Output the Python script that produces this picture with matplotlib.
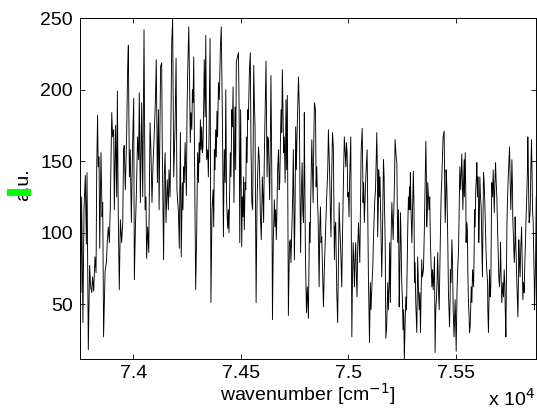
import matplotlib
matplotlib.use('Agg')
import matplotlib.pyplot as plt
from matplotlib.patches import Rectangle

# ---- data (wavenumber in cm^-1, intensity in a.u.) ----
wn_a = [73751, 73757, 73760, 73766, 73771, 73777, 73782, 73785, 73791, 73797,
        73802, 73807, 73811, 73816, 73822, 73827, 73830, 73834, 73837, 73841,
        73844, 73850, 73855, 73858, 73862, 73869, 73875, 73879, 73884, 73889,
        73893, 73900, 73904, 73909, 73912, 73918, 73923, 73926, 73930, 73935,
        73940, 73946, 73951, 73955, 73958, 73963, 73969, 73974, 73977, 73982,
        73986, 73991, 73997, 74002, 74005, 74010, 74014, 74020, 74025, 74028,
        74033, 74039, 74044, 74050, 74055, 74059, 74062, 74067, 74072, 74078,
        74082, 74087, 74092, 74096]
ai_a = [136, 58, 125, 37, 116, 140, 92, 142, 18, 77,
        62, 58, 69, 59, 83, 72, 144, 182, 146, 153,
        89, 156, 111, 121, 27, 73, 79, 93, 104, 93,
        117, 184, 167, 172, 116, 175, 125, 199, 116, 60,
        109, 93, 107, 158, 161, 130, 167, 216, 231, 139,
        158, 107, 163, 194, 67, 104, 125, 167, 151, 198,
        121, 191, 125, 242, 116, 125, 82, 104, 86, 177,
        158, 121, 149, 163]

wn_b = [74103, 74107, 74112, 74117, 74120, 74124, 74127, 74132, 74135, 74141,
        74144, 74148, 74152, 74158, 74163, 74166, 74171, 74174, 74179, 74183,
        74188, 74191, 74194, 74199, 74203, 74210, 74214, 74219, 74223, 74228,
        74231, 74234, 74237, 74241, 74245, 74247, 74250, 74253, 74258, 74262,
        74265, 74268, 74272, 74275, 74278, 74281, 74285, 74290, 74295, 74299,
        74303, 74306, 74309, 74312, 74315, 74318, 74321, 74324, 74327, 74330,
        74334, 74337, 74341, 74346, 74349, 74352, 74357, 74361, 74366, 74371,
        74374, 74377, 74380, 74383, 74386, 74389, 74392, 74396, 74400, 74405,
        74409, 74414, 74419, 74423, 74427, 74430, 74434, 74439, 74442, 74445,
        74451, 74454, 74458, 74461, 74464, 74468]
ai_b = [193, 221, 135, 186, 116, 174, 216, 219, 157, 81,
        139, 156, 107, 137, 116, 144, 125, 163, 234, 250,
        139, 156, 172, 222, 130, 114, 89, 170, 83, 135,
        116, 146, 135, 163, 139, 126, 186, 213, 244, 202,
        163, 184, 172, 200, 191, 223, 154, 60, 102, 156,
        135, 163, 149, 179, 158, 174, 156, 160, 186, 221,
        181, 238, 151, 158, 139, 167, 236, 51, 116, 130,
        104, 158, 144, 172, 153, 185, 167, 205, 193, 230,
        244, 184, 97, 158, 135, 200, 121, 103, 116, 100,
        156, 139, 186, 174, 202, 121]

wn_c = [74473, 74476, 74479, 74484, 74489, 74492, 74495, 74499, 74504, 74507,
        74510, 74513, 74516, 74520, 74523, 74526, 74529, 74532, 74535, 74540,
        74544, 74547, 74551, 74555, 74560, 74563, 74566, 74571, 74575, 74578,
        74582, 74586, 74591, 74595, 74600, 74603, 74606, 74609, 74613, 74617,
        74622, 74625, 74628, 74631, 74634, 74637, 74640, 74644, 74647, 74651,
        74656, 74659, 74662, 74665, 74668, 74671, 74675, 74678, 74681, 74684,
        74687, 74690, 74693, 74696, 74699, 74702, 74706, 74710, 74713, 74716,
        74721, 74726, 74730, 74733, 74737, 74741, 74744, 74749, 74752, 74755,
        74758, 74761, 74764, 74768, 74772, 74775, 74778, 74781, 74785, 74788,
        74791, 74794, 74795, 74800, 74805, 74809, 74814, 74819, 74822, 74825,
        74830, 74833, 74836, 74839, 74842]
ai_c = [188, 144, 219, 223, 226, 186, 93, 186, 90, 125,
        111, 139, 102, 135, 130, 167, 149, 186, 179, 214,
        226, 163, 121, 116, 217, 191, 174, 51, 118, 139,
        160, 151, 111, 95, 139, 125, 107, 151, 186, 220,
        139, 167, 165, 144, 123, 163, 210, 139, 39, 95,
        123, 104, 116, 95, 116, 144, 158, 130, 135, 163,
        186, 170, 214, 186, 156, 167, 135, 193, 144, 196,
        42, 93, 95, 79, 102, 125, 158, 81, 116, 174,
        144, 167, 186, 209, 186, 125, 86, 125, 149, 116,
        107, 146, 184, 87, 44, 62, 40, 107, 93, 125,
        165, 144, 121, 163, 191]

wn_d = [74847, 74850, 74853, 74856, 74859, 74864, 74867, 74870, 74873, 74876,
        74879, 74884, 74888, 74892, 74896, 74899, 74904, 74907, 74910, 74913,
        74916, 74919, 74922, 74926, 74930, 74935, 74938, 74941, 74946, 74950,
        74954, 74957, 74960, 74963, 74966, 74969, 74972, 74977, 74981, 74985,
        74988, 74991, 74994, 74997, 75000, 75003, 75006, 75011, 75016, 75019,
        75022, 75025, 75028, 75031, 75034, 75037, 75040, 75043, 75047, 75050,
        75053, 75056, 75059, 75064, 75067, 75068, 75071, 75074, 75078, 75081,
        75084, 75087, 75090, 75093, 75098, 75102, 75105, 75109, 75113, 75116,
        75119, 75122, 75126, 75129, 75132, 75135, 75136, 75140, 75141, 75144,
        75147, 75152, 75155, 75158, 75163, 75166, 75167, 75171, 75174, 75178,
        75183, 75186, 75189, 75192, 75195, 75198, 75202, 75205, 75208, 75211,
        75214]
ai_d = [186, 132, 146, 125, 111, 62, 104, 118, 93, 97,
        79, 48, 74, 93, 111, 125, 144, 172, 156, 139,
        116, 97, 135, 170, 160, 81, 104, 107, 58, 37,
        81, 121, 104, 93, 79, 62, 93, 137, 167, 156,
        146, 163, 156, 125, 128, 111, 139, 167, 27, 69,
        93, 79, 62, 83, 93, 69, 55, 88, 107, 93,
        79, 116, 156, 173, 139, 121, 135, 107, 125, 139,
        149, 158, 111, 69, 23, 65, 46, 62, 74, 93,
        107, 121, 130, 151, 170, 139, 97, 125, 144, 125,
        139, 93, 69, 93, 151, 139, 125, 93, 26, 34,
        65, 46, 62, 93, 51, 93, 121, 107, 95, 116,
        135]

wn_e = [75217, 75222, 75225, 75229, 75233, 75236, 75239, 75242, 75245, 75248,
        75251, 75254, 75257, 75260, 75264, 75267, 75270, 75273, 75276, 75279,
        75282, 75284, 75287, 75288, 75291, 75295, 75298, 75302, 75305, 75307,
        75310, 75313, 75318, 75321, 75322, 75326, 75329, 75332, 75335, 75338,
        75341, 75344, 75349, 75353, 75357, 75360, 75363, 75364, 75367, 75369,
        75372, 75375, 75378, 75381, 75384, 75388, 75391, 75394, 75397, 75400,
        75403, 75406, 75409, 75412, 75415, 75419, 75422, 75425, 75428, 75431,
        75434, 75437, 75440, 75445, 75448, 75450, 75453, 75454, 75457, 75459,
        75462, 75465, 75470, 75473, 75474, 75477, 75481, 75484, 75487, 75491,
        75496, 75498, 75501, 75504, 75505, 75508, 75512, 75515, 75518, 75521,
        75522, 75525, 75527, 75530, 75532, 75535, 75538, 75539, 75543, 75546,
        75547, 75550, 75553, 75555, 75558, 75561, 75563]
ai_e = [165, 153, 149, 93, 116, 48, 74, 114, 93, 65,
        53, 32, 46, 11, 39, 55, 46, 74, 104, 125,
        116, 132, 116, 142, 116, 93, 116, 143, 116, 65,
        79, 51, 30, 69, 83, 58, 46, 58, 30, 58,
        81, 69, 74, 102, 139, 164, 132, 104, 116, 135,
        125, 116, 125, 95, 79, 62, 74, 60, 69, 83,
        16, 46, 53, 65, 86, 58, 46, 74, 102, 125,
        137, 153, 167, 171, 128, 107, 125, 144, 135, 121,
        93, 58, 34, 55, 74, 65, 95, 79, 46, 27,
        53, 41, 17, 46, 60, 74, 88, 116, 146, 135,
        130, 144, 155, 135, 116, 135, 151, 125, 156, 125,
        93, 107, 102, 74, 51, 41, 30]

wn_f = [75566, 75571, 75574, 75577, 75582, 75585, 75586, 75589, 75592, 75595,
        75597, 75600, 75602, 75605, 75606, 75609, 75611, 75614, 75617, 75620,
        75623, 75626, 75628, 75631, 75634, 75637, 75640, 75643, 75647, 75648,
        75651, 75654, 75656, 75659, 75662, 75665, 75667, 75670, 75673, 75676,
        75678, 75681, 75684, 75687, 75690, 75693, 75696, 75699, 75702, 75706,
        75707, 75710, 75713, 75718, 75721, 75724, 75727, 75729, 75732, 75735,
        75737, 75740, 75743, 75746, 75749, 75752, 75755, 75758, 75760, 75763,
        75764, 75768, 75771, 75774, 75775, 75778, 75783, 75788, 75791, 75792,
        75795, 75798, 75801, 75805, 75808, 75811, 75814, 75817, 75820, 75823,
        75826, 75829, 75833, 75834, 75837, 75840, 75843, 75845, 75848, 75851,
        75854, 75856, 75859, 75860, 75864, 75865, 75868, 75870, 75873]
ai_f = [34, 62, 51, 74, 62, 93, 116, 104, 130, 139,
        149, 125, 139, 116, 93, 116, 139, 125, 118, 93,
        69, 116, 142, 135, 121, 104, 86, 74, 65, 46,
        30, 58, 74, 55, 62, 116, 135, 125, 144, 125,
        114, 135, 149, 135, 125, 104, 88, 69, 62, 79,
        93, 69, 51, 65, 55, 74, 65, 46, 27, 79,
        107, 125, 139, 149, 160, 135, 116, 135, 151, 130,
        111, 93, 79, 93, 111, 93, 65, 41, 74, 95,
        79, 69, 88, 104, 79, 53, 65, 58, 79, 93,
        111, 125, 149, 167, 135, 107, 111, 116, 144, 165,
        139, 116, 107, 97, 65, 46, 65, 79, 125]

wavenumber = wn_a + wn_b + wn_c + wn_d + wn_e + wn_f
intensity = ai_a + ai_b + ai_c + ai_d + ai_e + ai_f

x_ticks = [74000, 74500, 75000, 75500]
x_tick_labels = ['7.4', '7.45', '7.5', '7.55']
y_ticks = [50, 100, 150, 200, 250]
x_range = (73751, 75872)
y_range = (11.3, 250)

# ---- figure ----
plt.rcParams['font.family'] = ['Liberation Sans', 'DejaVu Sans']
W, H = 537, 415
FS = 14
fig = plt.figure(figsize=(W / 100, H / 100), dpi=100)
fig.patch.set_facecolor('white')

left, right, top, bottom = 79.7, 536.0, 18.3, 359.3
ax = fig.add_axes([left / W, 1 - bottom / H, (right - left) / W, (bottom - top) / H])
ax.plot(wavenumber, intensity, color='black', lw=0.65)
ax.set_xlim(*x_range)
ax.set_ylim(*y_range)
ax.set_xticks(x_ticks)
ax.set_xticklabels(x_tick_labels)
ax.set_yticks(y_ticks)
ax.tick_params(direction='in', length=3.6, width=0.6, top=True, right=True,
               labelsize=FS, colors='black')
ax.tick_params(axis='x', pad=4)
ax.tick_params(axis='y', pad=5)
for s in ax.spines.values():
    s.set_linewidth(0.7)
    s.set_color('black')

fig.text((left + right) / 2 / W, 1 - 394 / H, 'wavenumber [cm$^{-1}$]',
         ha='center', va='center', fontsize=FS)
fig.text(488 / W, 1 - 399 / H, 'x 10$^{4}$', ha='left', va='center', fontsize=FS)
fig.text(24 / W, 1 - 185 / H, 'a.u.', rotation=90, ha='center', va='center', fontsize=FS)
fig.patches.append(Rectangle((7.5 / W, 1 - 196 / H), 23 / W, 7 / H,
                             transform=fig.transFigure, facecolor='#00ff00',
                             edgecolor='none', zorder=10))

fig.savefig('out.png', dpi=100)
